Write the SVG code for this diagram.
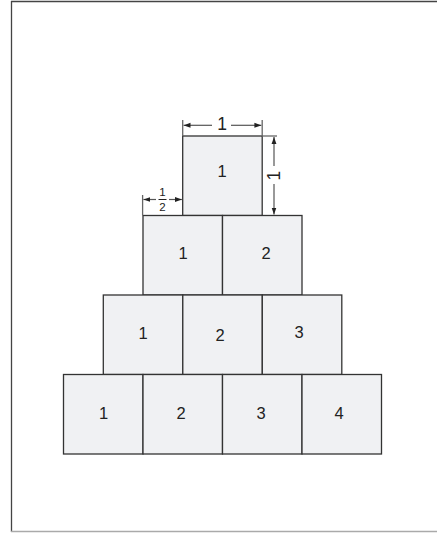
<svg xmlns="http://www.w3.org/2000/svg" width="437" height="533" viewBox="0 0 437 533">
<defs>
<style>
.box{fill:#f0f1f3;stroke:#333;stroke-width:1.3}
.lbl{font-family:"Liberation Sans",Arial,sans-serif;font-size:16.5px;fill:#222;text-anchor:middle;dominant-baseline:central}
.dim{stroke:#555;stroke-width:1.2;fill:none}
.ext{stroke:#666;stroke-width:1.3;fill:none}
.dt{font-family:"Liberation Sans",Arial,sans-serif;fill:#222;text-anchor:middle;dominant-baseline:central}
</style>
<marker id="ah" viewBox="0 0 10 10" refX="10" refY="5" markerWidth="7" markerHeight="7" orient="auto-start-reverse" markerUnits="userSpaceOnUse">
<path d="M0,1.5 L10,5 L0,8.5 Z" fill="#222"/>
</marker>
</defs>
<rect width="437" height="533" fill="#fff"/>
<g id="frame">
<line x1="11" y1="1.5" x2="437" y2="1.5" stroke="#444" stroke-width="1.3"/>
<line x1="11.5" y1="1" x2="11.5" y2="532" stroke="#444" stroke-width="1.3"/>
<line x1="11" y1="531.5" x2="437" y2="531.5" stroke="#aaa" stroke-width="1.3"/>
</g>
<g id="row1">
<g id="b11"><rect class="box" x="182.7" y="136" width="79.5" height="79.5"/><text class="lbl" x="222" y="171">1</text></g>
</g>
<g id="row2">
<g id="b21"><rect class="box" x="143" y="215.5" width="79.5" height="79.5"/><text class="lbl" x="183" y="253">1</text></g>
<g id="b22"><rect class="box" x="222.5" y="215.5" width="79.5" height="79.5"/><text class="lbl" x="266" y="253">2</text></g>
</g>
<g id="row3">
<g id="b31"><rect class="box" x="103.3" y="295" width="79.5" height="79.5"/><text class="lbl" x="143" y="333">1</text></g>
<g id="b32"><rect class="box" x="182.8" y="295" width="79.5" height="79.5"/><text class="lbl" x="220" y="335">2</text></g>
<g id="b33"><rect class="box" x="262.3" y="295" width="79.5" height="79.5"/><text class="lbl" x="299" y="332">3</text></g>
</g>
<g id="row4">
<g id="b41"><rect class="box" x="63.5" y="374.5" width="79.5" height="79.5"/><text class="lbl" x="103.5" y="413">1</text></g>
<g id="b42"><rect class="box" x="143" y="374.5" width="79.5" height="79.5"/><text class="lbl" x="181" y="413">2</text></g>
<g id="b43"><rect class="box" x="222.5" y="374.5" width="79.5" height="79.5"/><text class="lbl" x="261" y="413">3</text></g>
<g id="b44"><rect class="box" x="302" y="374.5" width="79.5" height="79.5"/><text class="lbl" x="339" y="413">4</text></g>
</g>
<g id="connectors">
<line class="ext" x1="182.7" y1="120" x2="182.7" y2="136"/>
<line class="ext" x1="262.2" y1="120" x2="262.2" y2="136"/>
<line class="dim" x1="212" y1="125.3" x2="183.5" y2="125.3" marker-end="url(#ah)"/>
<line class="dim" x1="231" y1="125.3" x2="261.4" y2="125.3" marker-end="url(#ah)"/>
<line class="ext" x1="262" y1="136" x2="277" y2="136"/>
<line class="dim" x1="274" y1="166" x2="274" y2="137" marker-end="url(#ah)"/>
<line class="dim" x1="274" y1="184" x2="274" y2="214.5" marker-end="url(#ah)"/>
<line class="ext" x1="142.6" y1="195" x2="142.6" y2="215.5"/>
<line class="dim" x1="156" y1="199.5" x2="143.4" y2="199.5" marker-end="url(#ah)"/>
<line class="dim" x1="169" y1="199.5" x2="181.9" y2="199.5" marker-end="url(#ah)"/>
<line x1="158.5" y1="199.5" x2="166.5" y2="199.5" stroke="#222" stroke-width="1"/>
</g>
<g id="dimlabels">
<text class="dt" x="222" y="124" font-size="17.5">1</text>
<text class="dt" x="274" y="175.5" font-size="17.5" transform="rotate(-90 274 175.5)">1</text>
<text class="dt" x="162.5" y="192" font-size="11.5">1</text>
<text class="dt" x="162.5" y="207" font-size="11.5">2</text>
</g>
</svg>
